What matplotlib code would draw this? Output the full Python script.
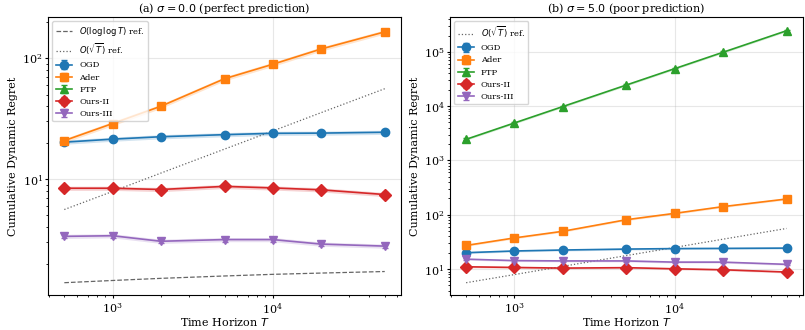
import numpy as np
import matplotlib
matplotlib.use("Agg")
import matplotlib.pyplot as plt

plt.rcParams["font.family"] = "DejaVu Serif"
plt.rcParams["mathtext.fontset"] = "dejavusans"
plt.rcParams["xtick.major.size"] = 2.5
plt.rcParams["ytick.major.size"] = 2.5
plt.rcParams["xtick.minor.size"] = 1.5
plt.rcParams["ytick.minor.size"] = 1.5

# horizons
T = np.array([500, 1000, 2000, 5000, 10000, 20000, 50000])

# (a) sigma = 0.0
ogd_a = [20.2, 21.4, 22.4, 23.3, 23.9, 24.0, 24.4]
ader_a = [20.8, 28.8, 40.0, 67.6, 89.0, 119.0, 165.0]
ftp_a = [np.nan] * 7  # zero regret -> not shown on log scale
ours2_a = [8.4, 8.4, 8.2, 8.7, 8.45, 8.15, 7.45]
ours3_a = [3.36, 3.4, 3.06, 3.16, 3.16, 2.9, 2.79]
loglog_ref = [1.39, 1.45, 1.51, 1.58, 1.63, 1.67, 1.72]
sqrt_ref = [5.6, 7.9, 11.2, 17.7, 25.0, 35.4, 55.9]

# (b) sigma = 5.0
ogd_b = [20.0, 21.5, 22.4, 23.3, 23.8, 24.0, 24.3]
ader_b = [27.2, 37.4, 49.5, 81.0, 106.0, 141.0, 195.0]
ftp_b = [2450, 4900, 9800, 24500, 49000, 98000, 245000]
ours2_b = [11.0, 10.7, 10.4, 10.6, 10.1, 9.7, 8.8]
ours3_b = [15.2, 14.3, 14.1, 14.1, 13.4, 13.4, 12.2]

methods = ["OGD", "Ader", "FTP", "Ours-II", "Ours-III"]
colors = ["#1f77b4", "#ff7f0e", "#2ca02c", "#d62728", "#9467bd"]
markers = ["o", "s", "^", "D", "v"]


def draw(ax, series, title, with_loglog):
    if with_loglog:
        ax.plot(T, loglog_ref, "--", color="#666666", lw=0.9,
                label=r"$O(\log\log T)$ ref.")
    ax.plot(T, sqrt_ref, ":", color="#666666", lw=0.9,
            label=r"$O(\sqrt{T})$ ref.")
    for name, vals, c, m in zip(methods, series, colors, markers):
        v = np.asarray(vals, dtype=float)
        err = 0.04 * v
        ax.fill_between(T, v - err, v + err, color=c, alpha=0.2, lw=0)
        ax.errorbar(T, v, yerr=err, color=c, marker=m, ms=6, lw=1.2,
                    capsize=2.5, label=name)
    ax.set_xscale("log")
    ax.set_yscale("log")
    ax.grid(True, which="major", alpha=0.3)
    ax.set_title(title, fontsize=8, pad=4)
    ax.set_xlabel(r"Time Horizon $T$", fontsize=8, labelpad=0)
    ax.set_ylabel("Cumulative Dynamic Regret", fontsize=8, labelpad=3)
    ax.tick_params(labelsize=8, pad=1.5)
    ax.legend(loc="upper left", fontsize=6, framealpha=0.8)


fig, axes = plt.subplots(1, 2, figsize=(8.05, 3.3), dpi=100)
draw(axes[0], [ogd_a, ader_a, ftp_a, ours2_a, ours3_a],
     r"(a) $\sigma = 0.0$ (perfect prediction)", True)
draw(axes[1], [ogd_b, ader_b, ftp_b, ours2_b, ours3_b],
     r"(b) $\sigma = 5.0$ (poor prediction)", False)

fig.subplots_adjust(left=0.06, right=0.997, top=0.948, bottom=0.105, wspace=0.14)
fig.savefig("out.png", dpi=100)
